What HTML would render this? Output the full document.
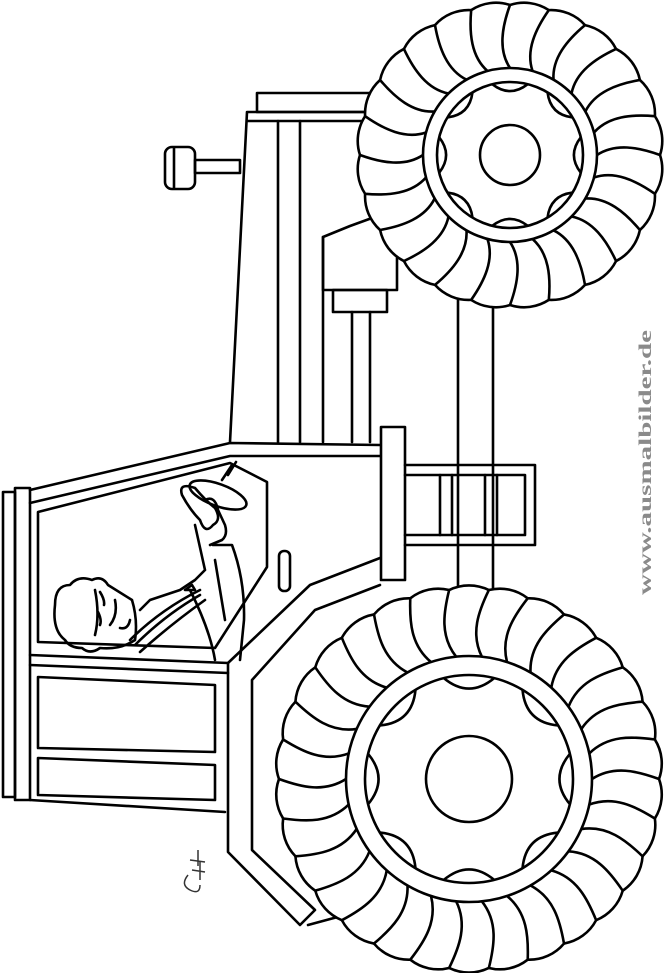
<!DOCTYPE html>
<html><head><meta charset="utf-8"><style>
html,body{margin:0;padding:0;background:#fff;width:665px;height:973px;overflow:hidden}
svg{display:block}
</style></head><body>
<svg width="665" height="973" viewBox="0 0 665 973" xmlns="http://www.w3.org/2000/svg">
<defs>
<path id="tb" d="M123 0 C145 -14 168 -8 190 0 A45 45 0 0 1 185.85 39.5" fill="none"/>
<path id="tt" d="M87 0 C105 -12 128 -8 150 0 A45 45 0 0 1 144.9 38.8" fill="none"/>
<path id="lb" d="M100.9 -25.2 Q80 0 100.9 25.2" fill="none"/>
<path id="lt" d="M70.8 -17.7 Q57 0 70.8 17.7" fill="none"/>
</defs>
<g fill="none" stroke="#000" stroke-width="2.6" stroke-linejoin="round" stroke-linecap="round">
<!-- exhaust -->
<rect x="165" y="147" width="30" height="42" rx="7" fill="#fff"/>
<line x1="174" y1="148" x2="174" y2="188"/>
<rect x="195" y="160" width="45" height="13"/>
<!-- hood -->
<rect x="257" y="93" width="113" height="19"/>
<path d="M247 112 L370 112 M247 121 L365 121 M247 112 L230 442"/>
<path d="M278 121 L278 442 M300 121 L300 442 M323 237 L323 442"/>
<path d="M323 237 L350 226 L372 218 M323 237 L323 290 L397 290 L397 258"/>
<rect x="333" y="290" width="54" height="22"/>
<path d="M352 312 L352 442 M370 312 L370 442"/>
<!-- axle -->
<path d="M458 300 L458 600 M493 300 L493 600"/>
<!-- steps -->
<rect x="381" y="427" width="24" height="153" fill="#fff"/>
<path d="M405 465 L535 465 L535 545 L405 545 M405 475 L525 475 L525 535 L405 535"/>
<path d="M440 475 L440 535 M452 475 L452 535 M485 475 L485 535 M497 475 L497 535"/>
<!-- cab top -->
<rect x="3" y="492" width="12" height="305"/>
<rect x="15" y="488" width="15" height="312"/>
<path d="M30 490 L230 443 L380 445 M30 503 L230 456 L380 456"/>
<path d="M38 512 L230 463 L267 482 L267 567 L215 648 L38 642 Z"/>
<rect x="279" y="551" width="11" height="40" rx="5"/>
<path d="M30 655 L228 663 M30 665 L228 673"/>
<path d="M38 677 L215 685 L215 752 L38 748 Z"/>
<path d="M38 758 L215 765 L215 800 L38 795 Z"/>
<path d="M30 800 L225 812"/>
<!-- fender -->
<path d="M228 663 L228 852 L300 925 L315 910 L252 850 L252 680 L315 610 L380 585"/>
<path d="M228 663 L310 585 L380 558"/>
<path d="M308 925 L345 915"/>
<!-- man -->
<ellipse cx="218" cy="495" rx="30" ry="11" transform="rotate(20 218 495)"/>
<path d="M228 475 L236 462 M222 480 L232 465"/>
<path d="M182 495 Q178 482 195 488 Q205 500 215 508 Q222 520 213 525 Q205 535 200 520 Q190 510 182 495"/>
<path d="M205 500 Q215 495 218 510 L225 525 Q228 535 222 540 L210 545"/>
<path d="M195 525 L205 570 M213 545 L232 545 Q245 580 244 620 L240 660 M205 570 L195 580 L180 590 L150 600 L140 610"/>
<path d="M215 560 L225 620 M190 590 Q210 630 215 660 M130 640 Q160 610 200 590 M135 645 Q165 615 200 595 M140 652 Q170 625 205 600"/>
<path d="M185 590 L195 590 L192 585 Z"/>
<path d="M55 605 Q55 585 70 585 Q78 575 92 580 Q102 575 108 585 L132 600 Q138 620 135 640 Q120 650 100 648 Q90 655 82 648 Q70 648 65 640 Q52 630 55 605"/>
<path d="M95 590 Q100 615 95 635 M100 592 Q105 600 104 605 M98 612 Q102 620 100 625 M115 600 Q118 615 110 625 M120 628 Q128 630 130 620"/>
</g>
<!-- top wheel -->
<g fill="none" stroke="#000" stroke-width="2.6" transform="translate(510 155)">
<circle r="152" fill="#fff" stroke="none"/>
<circle r="87"/><circle r="73"/><circle r="30"/>
<g><use href="#tt"/><use href="#tt" transform="rotate(15)"/><use href="#tt" transform="rotate(30)"/><use href="#tt" transform="rotate(45)"/><use href="#tt" transform="rotate(60)"/><use href="#tt" transform="rotate(75)"/><use href="#tt" transform="rotate(90)"/><use href="#tt" transform="rotate(105)"/><use href="#tt" transform="rotate(120)"/><use href="#tt" transform="rotate(135)"/><use href="#tt" transform="rotate(150)"/><use href="#tt" transform="rotate(165)"/><use href="#tt" transform="rotate(180)"/><use href="#tt" transform="rotate(195)"/><use href="#tt" transform="rotate(210)"/><use href="#tt" transform="rotate(225)"/><use href="#tt" transform="rotate(240)"/><use href="#tt" transform="rotate(255)"/><use href="#tt" transform="rotate(270)"/><use href="#tt" transform="rotate(285)"/><use href="#tt" transform="rotate(300)"/><use href="#tt" transform="rotate(315)"/><use href="#tt" transform="rotate(330)"/><use href="#tt" transform="rotate(345)"/></g>
<g><use href="#lt"/><use href="#lt" transform="rotate(45)"/><use href="#lt" transform="rotate(90)"/><use href="#lt" transform="rotate(135)"/><use href="#lt" transform="rotate(180)"/><use href="#lt" transform="rotate(225)"/><use href="#lt" transform="rotate(270)"/><use href="#lt" transform="rotate(315)"/></g>
</g>
<!-- bottom wheel -->
<g fill="none" stroke="#000" stroke-width="2.6" transform="translate(469 779)">
<circle r="192" fill="#fff" stroke="none"/>
<circle r="123"/><circle r="104"/><circle r="43"/>
<g><use href="#tb"/><use href="#tb" transform="rotate(12)"/><use href="#tb" transform="rotate(24)"/><use href="#tb" transform="rotate(36)"/><use href="#tb" transform="rotate(48)"/><use href="#tb" transform="rotate(60)"/><use href="#tb" transform="rotate(72)"/><use href="#tb" transform="rotate(84)"/><use href="#tb" transform="rotate(96)"/><use href="#tb" transform="rotate(108)"/><use href="#tb" transform="rotate(120)"/><use href="#tb" transform="rotate(132)"/><use href="#tb" transform="rotate(144)"/><use href="#tb" transform="rotate(156)"/><use href="#tb" transform="rotate(168)"/><use href="#tb" transform="rotate(180)"/><use href="#tb" transform="rotate(192)"/><use href="#tb" transform="rotate(204)"/><use href="#tb" transform="rotate(216)"/><use href="#tb" transform="rotate(228)"/><use href="#tb" transform="rotate(240)"/><use href="#tb" transform="rotate(252)"/><use href="#tb" transform="rotate(264)"/><use href="#tb" transform="rotate(276)"/><use href="#tb" transform="rotate(288)"/><use href="#tb" transform="rotate(300)"/><use href="#tb" transform="rotate(312)"/><use href="#tb" transform="rotate(324)"/><use href="#tb" transform="rotate(336)"/><use href="#tb" transform="rotate(348)"/></g>
<g><use href="#lb"/><use href="#lb" transform="rotate(45)"/><use href="#lb" transform="rotate(90)"/><use href="#lb" transform="rotate(135)"/><use href="#lb" transform="rotate(180)"/><use href="#lb" transform="rotate(225)"/><use href="#lb" transform="rotate(270)"/><use href="#lb" transform="rotate(315)"/></g>
</g>
<!-- signature -->
<path d="M188 875 Q180 885 190 890 Q200 895 200 885 M192 870 L205 872 M200 862 L200 880 M190 860 L205 862 M198 850 L198 866" fill="none" stroke="#333" stroke-width="1.5"/>
<text x="0" y="0" transform="translate(651 595) rotate(-90)" font-family="Liberation Serif, serif" font-weight="bold" font-size="18" fill="#8a8a8a" textLength="265" lengthAdjust="spacingAndGlyphs">www.ausmalbilder.de</text>
</svg>
</body></html>
